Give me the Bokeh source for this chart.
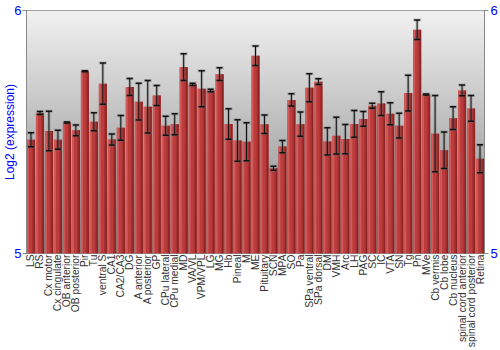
import numpy as np
from bokeh.plotting import figure
from bokeh.models import FactorRange, Range1d, LinearAxis, FixedTicker, ColumnDataSource, Whisker, TeeHead
from bokeh.transform import dodge
from bokeh.embed import file_html
from bokeh.resources import INLINE

categories = ["LS", "RS", "Cx motor", "Cx cingulate", "OB anterior", "OB posterior", "Pir", "Tu",
              "ventral S", "CA1", "CA2/CA3", "DG", "A anterior", "A posterior", "GP", "CPu lateral",
              "CPu medial", "MD", "VA/VL", "VPM/VPL", "LG", "MG", "Hb", "Pineal", "M", "ME",
              "Pituitary", "SCN", "MPA", "SO", "Pa", "SPa ventral", "SPa dorsal", "DM", "VMH", "Arc",
              "LH", "PAG", "SC", "IC", "VTA", "SN", "Tg", "Pn", "MVe", "Cb vermis", "Cb lobe",
              "Cb nucleus", "spinal cord anterior", "spinal cord posterior", "Retina"]

values = [5.468, 5.578, 5.504, 5.468, 5.539, 5.507, 5.750, 5.542, 5.699, 5.469,
          5.517, 5.685, 5.625, 5.604, 5.650, 5.526, 5.532, 5.767, 5.696, 5.678,
          5.671, 5.738, 5.533, 5.465, 5.460, 5.814, 5.532, 5.351, 5.440, 5.632,
          5.532, 5.682, 5.707, 5.461, 5.485, 5.471, 5.533, 5.554, 5.608, 5.617,
          5.575, 5.526, 5.660, 5.921, 5.654, 5.493, 5.425, 5.557, 5.671, 5.597, 5.390]

errors = [0.029, 0.006, 0.081, 0.039, 0.002, 0.022, 0.002, 0.037, 0.085, 0.023,
          0.051, 0.035, 0.076, 0.108, 0.041, 0.039, 0.043, 0.055, 0.005, 0.074,
          0.005, 0.026, 0.063, 0.085, 0.078, 0.040, 0.038, 0.008, 0.025, 0.025,
          0.050, 0.058, 0.012, 0.056, 0.076, 0.060, 0.055, 0.030, 0.010, 0.049,
          0.045, 0.051, 0.074, 0.040, 0.002, 0.157, 0.075, 0.047, 0.022, 0.053, 0.058]

y_ticks = [5, 6]
y_min, y_max = 5, 6

src = ColumnDataSource(dict(
    cat=categories, val=values,
    upper=[v + e for v, e in zip(values, errors)],
    lower=[v - e for v, e in zip(values, errors)],
))

p = figure(x_range=FactorRange(*categories), y_range=Range1d(y_min, y_max),
           width=500, height=350, output_backend="svg", toolbar_location=None,
           min_border_left=0, min_border_right=0, min_border_top=10, min_border_bottom=0)

p.background_fill_color = "white"
p.border_fill_color = "white"
p.outline_line_color = "#888888"
p.xgrid.visible = False
p.ygrid.visible = False

# vertical gradient background of the plot area
n = 256
g = np.linspace(130, 242, n)  # bottom -> top
img = np.zeros((n, 1), dtype=np.uint32)
view = img.view(dtype=np.uint8).reshape((n, 1, 4))
view[:, 0, 0] = g.astype(np.uint8)
view[:, 0, 1] = g.astype(np.uint8)
view[:, 0, 2] = g.astype(np.uint8)
view[:, 0, 3] = 255
p.image_rgba(image=[img], x=0, y=y_min, dw=len(categories), dh=y_max - y_min)

# bars with cylinder-like shading
p.vbar(x="cat", top="val", bottom=y_min, width=0.9, source=src, fill_color="#bb3c3c", line_color=None)
p.vbar(x=dodge("cat", -0.33, range=p.x_range), top="val", bottom=y_min, width=0.2, source=src,
       fill_color="#d45a5a", line_color=None)
p.vbar(x=dodge("cat", 0.2, range=p.x_range), top="val", bottom=y_min, width=0.14, source=src,
       fill_color="#a83030", line_color=None)
p.vbar(x=dodge("cat", 0.36, range=p.x_range), top="val", bottom=y_min, width=0.18, source=src,
       fill_color="#8c2424", line_color=None)

# error bars: soft gray halo then dark line
p.add_layout(Whisker(base="cat", upper="upper", lower="lower", source=src, level="overlay",
                     line_color="#666666", line_width=3, line_alpha=0.35,
                     upper_head=TeeHead(size=8, line_color="#666666", line_width=3, line_alpha=0.35),
                     lower_head=TeeHead(size=8, line_color="#666666", line_width=3, line_alpha=0.35)))
p.add_layout(Whisker(base="cat", upper="upper", lower="lower", source=src, level="overlay",
                     line_color="#111111", line_width=1,
                     upper_head=TeeHead(size=6, line_color="#111111", line_width=1.5),
                     lower_head=TeeHead(size=6, line_color="#111111", line_width=1.5)))

# left axis
ya = p.yaxis[0]
ya.ticker = FixedTicker(ticks=y_ticks)
ya.axis_label = "Log2 (expression)"
ya.axis_label_text_color = "blue"
ya.axis_label_text_font = "Liberation Sans"
ya.axis_label_text_font_style = "normal"
ya.axis_label_text_font_size = "12px"
ya.axis_label_standoff = -6
ya.major_label_text_color = "blue"
ya.major_label_text_font = "Liberation Sans"
ya.major_label_text_font_size = "13px"
ya.major_label_standoff = 1
ya.major_tick_out = 4
ya.major_tick_in = 0
ya.minor_tick_line_color = None
ya.axis_line_color = "#888888"
ya.major_tick_line_color = "#888888"

# right axis
ra = LinearAxis(ticker=FixedTicker(ticks=y_ticks))
ra.major_label_text_color = "blue"
ra.major_label_text_font = "Liberation Sans"
ra.major_label_text_font_size = "13px"
ra.major_label_standoff = 2
ra.major_tick_out = 4
ra.major_tick_in = 0
ra.minor_tick_line_color = None
ra.axis_line_color = "#888888"
ra.major_tick_line_color = "#888888"
p.add_layout(ra, "right")

# x axis
xa = p.xaxis[0]
xa.major_label_orientation = np.pi / 2
xa.major_label_text_font = "Liberation Sans"
xa.major_label_text_font_size = "10.3px"
xa.major_label_text_color = "#333333"
xa.major_label_standoff = 1
xa.major_tick_out = 0
xa.major_tick_line_color = None
xa.axis_line_color = None

open("out.html", "w").write(file_html(p, INLINE))
